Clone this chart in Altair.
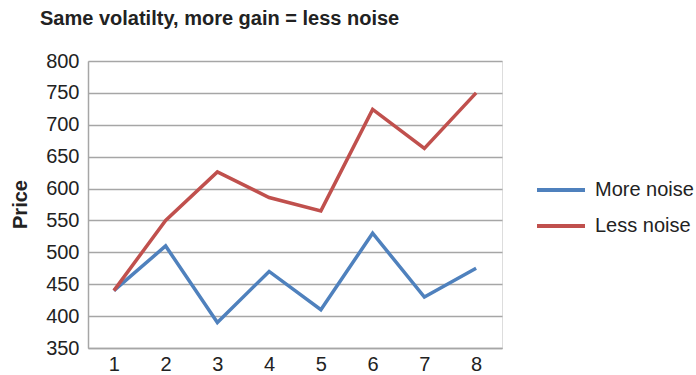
import altair as alt
import pandas as pd

# Period index and the two price series
periods = [1, 2, 3, 4, 5, 6, 7, 8]
more_noise = [440, 510, 390, 470, 410, 530, 430, 475]
less_noise = [440, 550, 626, 586, 565, 724, 663, 750]

series_names = ["More noise", "Less noise"]
series_colors = ["#4F81BD", "#C0504D"]
y_ticks = [350, 400, 450, 500, 550, 600, 650, 700, 750, 800]

df = pd.DataFrame(
    {
        "Period": periods * 2,
        "Price": more_noise + less_noise,
        "Series": [series_names[0]] * len(periods) + [series_names[1]] * len(periods),
    }
)

FONT = "Liberation Sans"

chart = (
    alt.Chart(df)
    .mark_line(strokeWidth=3.5, strokeJoin="miter")
    .encode(
        x=alt.X(
            "Period:O",
            scale=alt.Scale(type="point", padding=0.5),
            axis=alt.Axis(
                title=None,
                labelAngle=0,
                ticks=False,
                tickSize=0,
                labelPadding=6,
                labelFontSize=20,
                labelColor="#222222",
                labelFont=FONT,
                domainColor="#a6a6a6",
                domainWidth=1.5,
                grid=False,
            ),
        ),
        y=alt.Y(
            "Price:Q",
            scale=alt.Scale(domain=[350, 800], nice=False, zero=False),
            axis=alt.Axis(
                values=y_ticks,
                title="Price",
                titleFont=FONT,
                titleFontSize=20,
                titleFontWeight="bold",
                titleColor="#222222",
                titleAngle=270,
                titleAlign="center",
                titleBaseline="middle",
                titleX=-68,
                titleY=143,
                ticks=False,
                tickSize=0,
                labelPadding=9,
                labelFontSize=20,
                labelColor="#222222",
                labelFont=FONT,
                domainColor="#a6a6a6",
                domainWidth=1.5,
                gridColor="#a6a6a6",
                gridWidth=1.5,
            ),
        ),
        color=alt.Color(
            "Series:N",
            scale=alt.Scale(domain=series_names, range=series_colors),
            sort=series_names,
            legend=alt.Legend(
                title=None,
                orient="none",
                legendX=447,
                legendY=103,
                symbolType="stroke",
                symbolSize=2304,
                symbolStrokeWidth=4,
                labelFontSize=20,
                labelFont=FONT,
                labelColor="#222222",
                labelOffset=8,
                rowPadding=-25,
                padding=0,
            ),
        ),
    )
    .properties(
        width=414,
        height=287,
        title=alt.TitleParams(
            "Same volatilty, more gain = less noise",
            font=FONT,
            fontSize=20,
            fontWeight="bold",
            color="#222222",
            anchor="start",
            frame="group",
            dx=-48,
            offset=22,
        ),
        padding={"left": 88, "top": 61, "right": 194, "bottom": 27},
        autosize=alt.AutoSizeParams(type="none"),
    )
    .configure_view(stroke=None)
    .configure(background="white")
)

chart.save("out.html", embed_options={"renderer": "svg", "actions": False})
